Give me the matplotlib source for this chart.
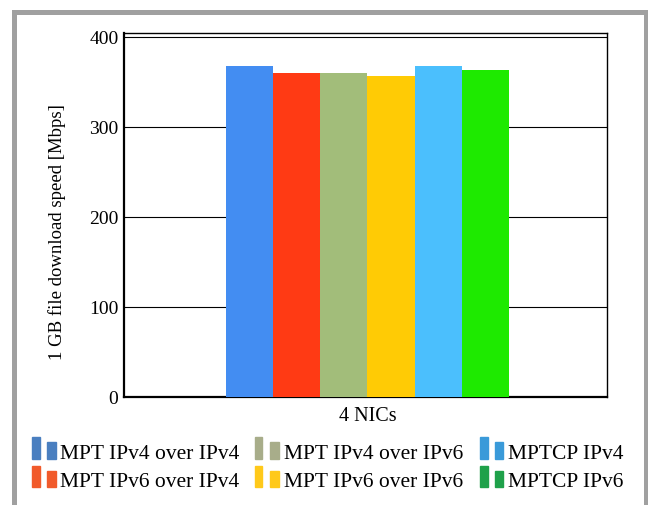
import matplotlib
matplotlib.use("Agg")
import matplotlib.pyplot as plt
from matplotlib.patches import Rectangle

categories = ["4 NICs"]
series_names = ["MPT IPv4 over IPv4", "MPT IPv6 over IPv4", "MPT IPv4 over IPv6",
                "MPT IPv6 over IPv6", "MPTCP IPv4", "MPTCP IPv6"]
values = [368, 361, 361, 357, 368, 364]
bar_colors = ["#438df2", "#ff3a14", "#a2bd7a", "#ffcb05", "#4bbffd", "#1eea00"]
legend_colors = ["#4a7fc0", "#f15a2b", "#a8ad8a", "#ffc91a", "#3a9ad9", "#1fa14a"]
yticks = [0, 100, 200, 300, 400]

W, H = 648, 505
plt.rcParams['font.family'] = ['Liberation Serif', 'DejaVu Serif']
fig = plt.figure(figsize=(W / 100, H / 100), dpi=100)

def fx(x):
    return x / W

def fy(y):
    return 1 - y / H

ax = fig.add_axes([fx(124), fy(397), fx(607) - fx(124), fy(33) - fy(397)])
xs = list(range(len(values)))
ax.bar(xs, values, width=1.0, color=bar_colors, zorder=3)
ax.set_ylim(0, 405)
ax.set_xlim(2.46 - 5.12, 2.46 + 5.12)
ax.set_yticks(yticks)
ax.set_yticklabels([str(t) for t in yticks], fontsize=14)
ax.set_xticks([2.5])
ax.set_xticklabels(categories, fontsize=14.5)
ax.tick_params(axis='x', length=0, pad=7)
ax.tick_params(axis='y', length=0, pad=4)
ax.yaxis.grid(True, color="black", linewidth=0.8, zorder=0)
ax.set_axisbelow(True)
for s in ax.spines.values():
    s.set_linewidth(1.0)
ax.spines['bottom'].set_linewidth(1.6)
ax.spines['left'].set_linewidth(1.6)
fig.text(fx(57), fy(232), "1 GB file download speed [Mbps]", fontsize=13.5,
         rotation=90, ha="center", va="center")

# gray frame
fig.add_artist(Rectangle((fx(13.5), fy(H + 20)), fx(645.5) - fx(13.5), fy(12) - fy(H + 20),
                         transform=fig.transFigure, fill=False, edgecolor="#a0a0a0",
                         linewidth=3.6, clip_on=False))

# legend (manual, column-major 3 columns x 2 rows)
col_x = [(32, 47, 60), (254.5, 270, 284.5), (480, 494.5, 508.5)]
row_y = [(437, 442, 459), (466, 471, 487)]
for i, (name, c) in enumerate(zip(series_names, legend_colors)):
    col, row = i // 2, i % 2
    x_tall, x_short, x_text = col_x[col]
    y_tall, y_short, y_base = row_y[row]
    fig.add_artist(Rectangle((fx(x_tall), fy(y_base)), 7.5 / W, (y_base - y_tall) / H,
                             transform=fig.transFigure, color=c))
    fig.add_artist(Rectangle((fx(x_short), fy(y_base)), 8.5 / W, (y_base - y_short) / H,
                             transform=fig.transFigure, color=c))
    fig.text(fx(x_text), fy(y_base), name, fontsize=15.5, va="baseline", ha="left")

fig.savefig("out.png", dpi=100)
